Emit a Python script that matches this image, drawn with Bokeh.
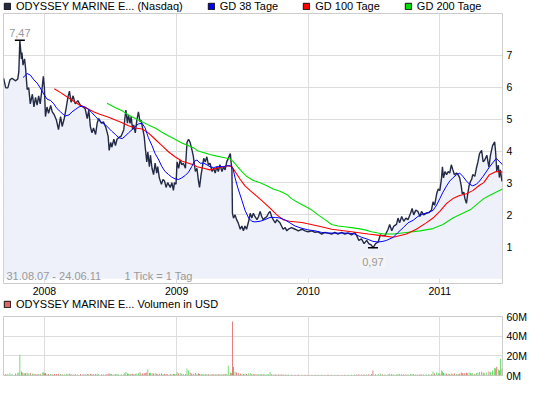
from bokeh.plotting import figure
from bokeh.models import Range1d, FixedTicker, Legend, LegendItem, Label
from bokeh.layouts import column
from bokeh.embed import file_html
from bokeh.resources import INLINE

# ---------------- data (trading-day index since 31.08.07, 1 tick = 1 day) ----------------
day = [6, 10, 14, 18, 22, 29, 33, 35, 37, 40,
       41, 43, 46, 48, 51, 54, 57, 61, 64, 67,
       70, 73, 76, 80, 82, 84, 86, 89, 92, 96,
       99, 103, 107, 111, 115, 118, 122, 126, 129, 132,
       135, 139, 143, 148, 153, 158, 162, 166, 169, 172,
       175, 178, 182, 185, 188, 193, 197, 202, 206, 208,
       211, 213, 217, 220, 223, 226, 231, 236, 238, 240,
       243, 245, 248, 250, 253, 255, 258, 261, 264, 267,
       269, 272, 275, 277, 280, 282, 285, 287, 290, 293,
       296, 299, 301, 304, 308, 311, 314, 317, 320, 325,
       328, 331, 333, 336, 338, 341, 344, 347, 350, 354,
       357, 360, 363, 366, 369, 373, 376, 379, 381, 384,
       386, 389, 392, 395, 398, 401, 405, 408, 411, 414,
       417, 420, 424, 427, 430, 433, 436, 440, 441, 443,
       444, 446, 449, 452, 455, 459, 462, 465, 468, 471,
       475, 478, 481, 484, 487, 491, 494, 497, 500, 503,
       506, 510, 513, 516, 519, 522, 526, 529, 532, 535,
       538, 541, 545, 548, 551, 557, 564, 570, 577, 583,
       589, 596, 602, 608, 615, 621, 627, 634, 640, 646,
       653, 659, 666, 672, 678, 682, 686, 691, 696, 701,
       705, 710, 713, 718, 723, 727, 731, 736, 742, 745,
       749, 753, 758, 761, 764, 768, 772, 776, 780, 785,
       788, 791, 795, 799, 803, 806, 810, 815, 820, 825,
       828, 831, 835, 838, 841, 844, 846, 848, 851, 854,
       857, 860, 863, 866, 869, 873, 876, 879, 882, 884,
       887, 889, 892, 894, 897, 900, 902, 904, 908, 911,
       914, 917, 921, 924, 927, 931, 935, 938, 942, 946,
       948, 950, 953, 955, 957, 960]

close = [6.28, 5.98, 5.98, 6.23, 6.28, 6.20, 6.26, 6.48, 7.47, 6.89,
         7.09, 6.69, 6.89, 6.59, 5.93, 5.98, 5.48, 5.78, 5.38, 5.68,
         5.44, 5.73, 5.48, 6.03, 6.34, 5.98, 5.08, 5.38, 5.18, 5.43,
         5.23, 5.13, 4.97, 4.67, 5.08, 4.77, 5.02, 5.38, 5.68, 5.88,
         5.53, 5.73, 5.48, 5.58, 5.43, 5.38, 5.33, 5.02, 5.28, 4.77,
         4.57, 4.72, 4.52, 4.87, 5.02, 4.87, 4.92, 4.72, 4.47, 4.02,
         4.27, 4.12, 4.37, 4.17, 4.37, 4.42, 4.47, 4.67, 5.02, 5.28,
         4.87, 5.13, 4.87, 5.08, 4.67, 4.82, 4.57, 4.97, 5.23, 4.92,
         4.97, 4.72, 4.47, 4.12, 3.66, 3.97, 3.51, 3.87, 3.46, 3.26,
         3.62, 3.31, 3.51, 3.16, 2.96, 3.11, 3.06, 2.86, 3.01, 2.86,
         3.01, 2.77, 3.01, 2.96, 3.66, 3.46, 3.72, 3.57, 3.62, 3.46,
         4.27, 4.37, 4.27, 4.07, 3.85, 3.36, 3.46, 3.06, 2.86, 3.26,
         3.46, 3.77, 3.66, 3.82, 3.57, 3.62, 3.36, 3.46, 3.31, 3.51,
         3.36, 3.57, 3.36, 3.51, 3.41, 3.66, 3.77, 3.92, 3.72, 3.41,
         2.05, 1.90, 2.00, 1.85, 1.75, 1.55, 1.65, 1.50, 1.65, 1.55,
         1.80, 2.05, 1.90, 2.05, 1.95, 1.85, 1.95, 2.11, 1.95, 1.85,
         1.90, 1.95, 2.05, 2.11, 1.95, 1.85, 1.75, 1.85, 1.80, 1.75,
         1.65, 1.55, 1.60, 1.50, 1.55, 1.60, 1.55, 1.50, 1.55, 1.50,
         1.47, 1.50, 1.45, 1.47, 1.40, 1.45, 1.43, 1.40, 1.45, 1.40,
         1.45, 1.40, 1.43, 1.37, 1.45, 1.35, 1.20, 1.25, 1.10, 1.20,
         1.10, 1.05, 0.97, 1.10, 1.15, 1.37, 1.35, 1.35, 1.55, 1.70,
         1.50, 1.65, 1.70, 1.90, 1.75, 1.95, 1.80, 1.90, 1.85, 2.05,
         2.20, 2.00, 2.15, 2.11, 1.95, 2.11, 2.00, 2.05, 2.07, 2.15,
         2.41, 2.30, 2.66, 2.81, 2.76, 3.11, 3.51, 3.16, 3.36, 3.26,
         3.36, 3.31, 3.57, 3.41, 3.26, 3.31, 3.26, 3.16, 2.91, 2.66,
         2.71, 2.51, 2.36, 2.61, 2.91, 3.06, 3.11, 3.26, 3.21, 3.46,
         3.66, 3.92, 4.02, 3.66, 3.72, 3.87, 3.50, 3.87, 4.17, 4.29,
         3.93, 3.38, 3.56, 3.17, 3.41, 3.05]

# volume in million USD, one value per day above
volume = [2.0, 1.5, 1.8, 2.2, 1.6, 2.0, 2.5, 3.0, 21.0, 4.0,
          3.5, 2.5, 2.0, 2.2, 2.8, 1.8, 2.5, 2.0, 1.8, 1.5,
          1.6, 1.4, 1.8, 3.0, 3.2, 2.0, 2.5, 1.6, 1.4, 1.5,
          1.2, 1.4, 1.6, 1.8, 1.5, 1.3, 1.2, 1.4, 1.8, 2.0,
          1.5, 1.3, 1.4, 1.2, 1.6, 1.3, 1.2, 1.5, 1.4, 1.8,
          1.6, 1.4, 1.5, 1.8, 1.6, 1.3, 1.2, 1.4, 1.6, 2.2,
          1.5, 1.4, 1.3, 1.2, 1.4, 1.3, 1.5, 1.6, 2.5, 3.5,
          2.0, 1.8, 1.5, 1.6, 1.8, 1.4, 1.5, 2.0, 2.4, 3.2,
          1.8, 2.0, 2.2, 2.5, 3.0, 6.0, 2.5, 2.8, 2.2, 2.0,
          2.2, 1.8, 1.6, 1.8, 2.0, 1.5, 1.4, 1.6, 1.5, 1.4,
          1.3, 1.5, 1.4, 1.3, 3.5, 2.0, 2.5, 1.8, 1.6, 1.5,
          7.0, 5.0, 3.0, 2.0, 1.8, 2.5, 1.8, 2.0, 1.6, 1.5,
          1.4, 1.6, 1.3, 1.5, 1.2, 1.3, 1.4, 1.2, 1.3, 1.2,
          1.3, 1.4, 1.2, 1.3, 1.4, 1.6, 10.0, 3.0, 2.0, 2.5,
          55.0, 9.0, 4.0, 3.0, 2.5, 2.0, 1.8, 1.6, 1.5, 1.4,
          2.0, 2.5, 1.6, 1.5, 1.4, 1.3, 1.2, 1.5, 1.3, 1.2,
          1.2, 1.4, 1.3, 3.5, 1.2, 1.1, 1.2, 1.0, 1.1, 1.0,
          1.0, 0.9, 1.0, 0.8, 0.9, 1.0, 0.8, 0.9, 0.8, 0.7,
          0.8, 0.7, 0.8, 0.7, 0.8, 0.7, 0.9, 0.8, 0.7, 0.8,
          0.7, 0.8, 0.7, 0.8, 0.9, 1.0, 1.2, 1.0, 1.3, 1.1,
          1.2, 1.5, 5.0, 1.6, 1.4, 2.0, 1.3, 1.2, 1.5, 1.8,
          1.4, 1.2, 1.3, 1.6, 1.2, 1.5, 1.3, 1.2, 1.1, 1.4,
          1.6, 1.3, 1.2, 1.1, 1.2, 1.3, 1.1, 1.2, 1.4, 1.5,
          4.0, 2.0, 3.0, 2.5, 2.0, 5.0, 4.0, 2.5, 2.0, 1.8,
          1.8, 1.6, 2.0, 1.8, 2.0, 1.6, 1.5, 1.8, 3.0, 2.5,
          2.0, 2.5, 2.8, 2.2, 3.0, 2.5, 2.0, 2.2, 1.8, 2.5,
          3.0, 3.5, 4.0, 3.0, 2.5, 3.0, 4.0, 3.5, 5.0, 8.0,
          7.0, 9.0, 6.0, 5.0, 17.0, 7.0]

ma38_day = [43, 51, 57, 64, 70, 76, 83, 89, 96, 102, 108, 115, 121, 124, 131, 137, 143, 150,
            156, 162, 169, 175, 182, 188, 194, 201, 207, 213, 220, 226, 233, 239, 245, 252,
            258, 264, 271, 277, 283, 290, 296, 303, 309, 315, 322, 328, 334, 341, 347, 354,
            360, 366, 371, 376, 382, 389, 395, 401, 408, 414, 420, 427, 433, 440, 445, 449,
            455, 462, 468, 475, 481, 487, 497, 506, 516, 526, 535, 545, 554, 564, 577, 589,
            602, 615, 627, 640, 653, 666, 678, 691, 704, 713, 723, 732, 739, 752, 761, 771,
            780, 790, 799, 809, 818, 828, 835, 841, 847, 854, 860, 866, 873, 879, 885, 892,
            898, 904, 911, 917, 924, 936, 949, 956, 961]
ma38 = [6.30, 6.43, 6.38, 6.23, 6.13, 5.98, 5.78, 5.63, 5.58, 5.48, 5.33, 5.23, 5.13, 5.10,
        5.13, 5.23, 5.30, 5.38, 5.41, 5.38, 5.30, 5.20, 5.08, 4.97, 4.89, 4.82, 4.72, 4.62,
        4.52, 4.42, 4.39, 4.47, 4.57, 4.67, 4.77, 4.85, 4.87, 4.72, 4.42, 4.17, 3.92, 3.72,
        3.51, 3.36, 3.26, 3.18, 3.13, 3.11, 3.16, 3.24, 3.34, 3.51, 3.68, 3.72, 3.62, 3.62,
        3.57, 3.51, 3.48, 3.51, 3.51, 3.51, 3.54, 3.54, 3.46, 3.16, 2.81, 2.46, 2.15, 1.90,
        1.80, 1.78, 1.80, 1.85, 1.92, 1.92, 1.90, 1.84, 1.75, 1.65, 1.58, 1.53, 1.50, 1.45,
        1.43, 1.43, 1.43, 1.43, 1.40, 1.30, 1.23, 1.17, 1.15, 1.17, 1.20, 1.30, 1.45, 1.60,
        1.75, 1.83, 1.95, 2.03, 2.07, 2.14, 2.31, 2.51, 2.71, 2.91, 3.06, 3.16, 3.26, 3.31,
        3.21, 3.06, 2.96, 2.91, 2.96, 3.06, 3.21, 3.50, 3.77, 3.66, 3.57]

ma100_day = [103, 115, 127, 140, 153, 166, 178, 190, 207, 220, 233, 245, 258, 271, 283, 296,
             309, 322, 334, 347, 360, 371, 376, 389, 401, 414, 427, 436, 443, 449, 459, 468,
             478, 491, 503, 516, 529, 541, 553, 577, 608, 634, 672, 704, 729, 752, 777, 796,
             815, 828, 841, 854, 866, 879, 892, 904, 917, 925, 936, 949, 961]
ma100 = [5.95, 5.83, 5.70, 5.56, 5.43, 5.33, 5.23, 5.15, 5.06, 4.97, 4.89, 4.79, 4.72, 4.69,
         4.57, 4.37, 4.17, 3.97, 3.82, 3.69, 3.62, 3.56, 3.51, 3.46, 3.41, 3.46, 3.51, 3.54,
         3.51, 3.36, 3.11, 2.91, 2.76, 2.58, 2.41, 2.21, 2.00, 1.85, 1.80, 1.76, 1.65, 1.55,
         1.47, 1.40, 1.35, 1.30, 1.40, 1.55, 1.75, 1.90, 2.11, 2.36, 2.51, 2.61, 2.66, 2.76,
         2.93, 3.01, 3.26, 3.36, 3.34]

ma200_day = [204, 220, 233, 245, 258, 271, 283, 296, 309, 322, 334, 347, 360, 371, 376, 389,
             401, 414, 427, 440, 446, 459, 471, 484, 497, 510, 522, 535, 548, 557, 570, 583,
             596, 608, 621, 634, 646, 659, 672, 685, 698, 710, 723, 734, 752, 777, 803, 828,
             847, 866, 885, 901, 914, 925, 936, 961]
ma200 = [5.50, 5.36, 5.26, 5.13, 5.02, 4.92, 4.82, 4.72, 4.59, 4.47, 4.37, 4.25, 4.17, 4.09,
         4.02, 3.95, 3.89, 3.84, 3.80, 3.75, 3.66, 3.41, 3.21, 3.08, 3.01, 2.91, 2.81, 2.74,
         2.64, 2.51, 2.38, 2.27, 2.15, 2.00, 1.85, 1.70, 1.65, 1.63, 1.60, 1.57, 1.53, 1.47,
         1.43, 1.40, 1.40, 1.45, 1.50, 1.57, 1.70, 1.90, 2.05, 2.18, 2.36, 2.51, 2.61, 2.81]

year_ticks = [84, 337, 589, 841]
year_labels = ["2008", "2009", "2010", "2011"]
price_ticks = [1, 2, 3, 4, 5, 6, 7]
vol_ticks = [0, 20, 40, 60]
vol_labels = ["0M", "20M", "40M", "60M"]
first_date, last_date = "31.08.07", "24.06.11"
series_names = ["ODYSSEY MARINE E... (Nasdaq)", "GD 38 Tage", "GD 100 Tage", "GD 200 Tage"]
volume_name = "ODYSSEY MARINE E... Volumen in USD"

# ---------------- styling ----------------
FONT = "Liberation Sans"
W = 529
X_START, X_END = 5.7, 961
GRID = "#DDDDDD"
NAVY = "#232A45"
BLUE, RED, GREEN = "#0000FF", "#FF0000", "#00E000"
UP, DOWN = "#5CD65C", "#E06666"
BORDERS = dict(min_border_left=3, min_border_right=26)


def style_axis(ax, standoff=4):
    ax.axis_line_color = None
    ax.major_tick_line_color = None
    ax.minor_tick_line_color = None
    ax.major_tick_out = 0
    ax.major_tick_in = 0
    ax.axis_label_standoff = 0
    ax.major_label_text_font = FONT
    ax.major_label_text_font_size = "10.5px"
    ax.major_label_text_color = "black"
    ax.major_label_standoff = standoff


def legend_strip(height, names, colors, location):
    # a thin strip that only carries a legend; the swatch proxies sit outside its ranges
    f = figure(width=W, height=height, output_backend="svg", toolbar_location=None,
               x_range=Range1d(0, 1), y_range=Range1d(0, 1),
               x_axis_location=None, y_axis_location=None,
               min_border_top=0, min_border_bottom=0, **BORDERS)
    f.outline_line_color = None
    f.xgrid.visible = False
    f.ygrid.visible = False
    items = []
    for n, c in zip(names, colors):
        r = f.quad(left=[-3], right=[-2], top=[-2], bottom=[-3], fill_color=c,
                   line_color="#111111", line_width=1)
        items.append(LegendItem(label=n, renderers=[r]))
    leg = Legend(items=items, orientation="horizontal", location=location, spacing=24,
                 padding=0, margin=0, glyph_width=8, glyph_height=8, label_standoff=5,
                 label_height=12, label_text_font=FONT, label_text_font_size="11px",
                 label_text_color="black", border_line_color=None, background_fill_alpha=0)
    f.add_layout(leg, "center")
    return f


top_legend = legend_strip(12, series_names, [NAVY, BLUE, RED, GREEN], "top_left")

# ---------------- price panel ----------------
p = figure(width=W, height=285, x_range=Range1d(X_START, X_END), y_range=Range1d(-0.15, 8.31),
           output_backend="svg", toolbar_location=None, y_axis_location="right",
           min_border_top=1, min_border_bottom=0, **BORDERS)
p.outline_line_color = "#CCCCCC"
p.xaxis.ticker = FixedTicker(ticks=year_ticks)
p.xaxis.major_label_overrides = {t: l for t, l in zip(year_ticks, year_labels)}
p.yaxis.ticker = FixedTicker(ticks=price_ticks)
p.xgrid.ticker = FixedTicker(ticks=year_ticks)
p.ygrid.ticker = FixedTicker(ticks=price_ticks)
style_axis(p.xaxis[0], standoff=3)
style_axis(p.yaxis[0])
p.xgrid.grid_line_color = GRID
p.ygrid.grid_line_color = GRID

p.varea(x=day, y1=0, y2=close, fill_color="#EEF1F9")
p.line(day, close, line_color=NAVY, line_width=1.4)
p.line(ma200_day, ma200, line_color=GREEN, line_width=1.1)
p.line(ma100_day, ma100, line_color=RED, line_width=1.1)
p.line(ma38_day, ma38, line_color=BLUE, line_width=1.0)

hi = close.index(max(close))
lo = close.index(min(close))
p.scatter(x=[day[hi], day[lo]], y=[close[hi], close[lo]], marker="dash", size=10,
          line_color="black", line_width=1.5)
p.add_layout(Label(x=day[hi], y=close[hi], y_offset=3, text=f"{close[hi]:.2f}".replace(".", ","),
                   text_align="center", text_baseline="bottom", text_font=FONT,
                   text_font_size="11px", text_color="#999999"))
p.add_layout(Label(x=day[lo], y=close[lo], y_offset=-8, text=f"{close[lo]:.2f}".replace(".", ","),
                   text_align="center", text_baseline="top", text_font=FONT,
                   text_font_size="11px", text_color="#999999",
                   background_fill_color="#F4F4F6", padding=2))
p.add_layout(Label(x=X_START, y=0, x_offset=3, y_offset=3, text=f"{first_date} - {last_date}",
                   text_baseline="middle", text_font=FONT, text_font_size="11px",
                   text_color="#999999"))
p.add_layout(Label(x=X_START, y=0, x_offset=121, y_offset=3, text="1 Tick = 1 Tag",
                   text_baseline="middle", text_font=FONT, text_font_size="11px",
                   text_color="#999999"))

vol_legend = legend_strip(13, [volume_name], [DOWN], "bottom_left")

# ---------------- volume panel ----------------
p2 = figure(width=W, height=72, x_range=p.x_range, y_range=Range1d(0, 60),
            output_backend="svg", toolbar_location=None, y_axis_location="right",
            x_axis_location=None, min_border_top=6, min_border_bottom=7, **BORDERS)
p2.outline_line_color = "#CCCCCC"
p2.yaxis.ticker = FixedTicker(ticks=vol_ticks)
p2.yaxis.major_label_overrides = {t: l for t, l in zip(vol_ticks, vol_labels)}
style_axis(p2.yaxis[0])
p2.xgrid.ticker = FixedTicker(ticks=year_ticks)
p2.ygrid.ticker = FixedTicker(ticks=vol_ticks)
p2.xgrid.grid_line_color = GRID
p2.ygrid.grid_line_color = GRID

vol_colors = [UP if i == 0 or close[i] >= close[i - 1] else DOWN for i in range(len(close))]
p2.vbar(x=day, top=volume, width=1.6, fill_color=vol_colors, line_color=None)

layout = column(top_legend, p, vol_legend, p2, spacing=0)
open("out.html", "w").write(file_html(layout, INLINE))
